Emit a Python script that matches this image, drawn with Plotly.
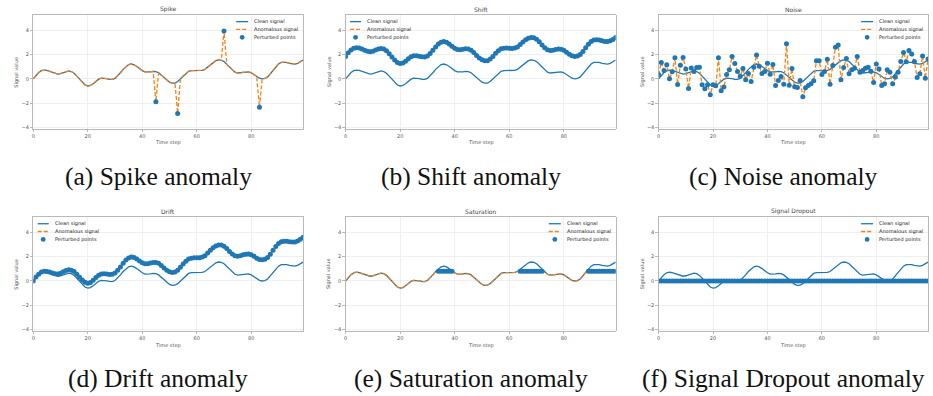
import plotly.graph_objects as go

# ---------------- data ----------------
time_steps = list(range(100))

clean_signal = [
    0.00, 0.30, 0.52, 0.67, 0.72, 0.69, 0.61, 0.51, 0.42, 0.39,
    0.43, 0.52, 0.61, 0.65, 0.60, 0.46, 0.22, -0.05, -0.30, -0.50,
    -0.59, -0.55, -0.40, -0.20, -0.03, 0.05, 0.05, 0.01, -0.04, -0.05,
    0.04, 0.24, 0.50, 0.78, 1.02, 1.17, 1.22, 1.16, 1.02, 0.84,
    0.68, 0.57, 0.55, 0.58, 0.62, 0.60, 0.50, 0.31, 0.08, -0.13,
    -0.28, -0.36, -0.35, -0.22, 0.00, 0.25, 0.47, 0.62, 0.68, 0.69,
    0.67, 0.66, 0.70, 0.78, 0.98, 1.18, 1.37, 1.50, 1.56, 1.53,
    1.42, 1.20, 0.94, 0.72, 0.55, 0.48, 0.50, 0.56, 0.60, 0.58,
    0.50, 0.35, 0.18, 0.05, 0.00, 0.03, 0.16, 0.41, 0.72, 1.00,
    1.22, 1.35, 1.38, 1.35, 1.28, 1.23, 1.22, 1.28, 1.40, 1.55,
]

spike_signal = [
    0.00, 0.30, 0.52, 0.67, 0.72, 0.69, 0.61, 0.51, 0.42, 0.39,
    0.43, 0.52, 0.61, 0.65, 0.60, 0.46, 0.22, -0.05, -0.30, -0.50,
    -0.59, -0.55, -0.40, -0.20, -0.03, 0.05, 0.05, 0.01, -0.04, -0.05,
    0.04, 0.24, 0.50, 0.78, 1.02, 1.17, 1.22, 1.16, 1.02, 0.84,
    0.68, 0.57, 0.55, 0.58, 0.62, -1.90, 0.50, 0.31, 0.08, -0.13,
    -0.28, -0.36, -0.35, -2.85, 0.00, 0.25, 0.47, 0.62, 0.68, 0.69,
    0.67, 0.66, 0.70, 0.78, 0.98, 1.18, 1.37, 1.50, 1.56, 1.53,
    3.95, 1.20, 0.94, 0.72, 0.55, 0.48, 0.50, 0.56, 0.60, 0.58,
    0.50, 0.35, 0.18, -2.35, 0.00, 0.03, 0.16, 0.41, 0.72, 1.00,
    1.22, 1.35, 1.38, 1.35, 1.28, 1.23, 1.22, 1.28, 1.40, 1.55,
]
spike_steps = [45, 53, 70, 83]
spike_values = [-1.90, -2.85, 3.95, -2.35]

shift_signal = [
    1.85, 2.15, 2.37, 2.52, 2.57, 2.54, 2.46, 2.36, 2.27, 2.24,
    2.28, 2.37, 2.46, 2.50, 2.45, 2.31, 2.07, 1.80, 1.55, 1.35,
    1.26, 1.30, 1.45, 1.65, 1.82, 1.90, 1.90, 1.86, 1.81, 1.80,
    1.89, 2.09, 2.35, 2.63, 2.87, 3.02, 3.07, 3.01, 2.87, 2.69,
    2.53, 2.42, 2.40, 2.43, 2.47, 2.45, 2.35, 2.16, 1.93, 1.72,
    1.57, 1.49, 1.50, 1.63, 1.85, 2.10, 2.32, 2.47, 2.53, 2.54,
    2.52, 2.51, 2.55, 2.63, 2.83, 3.03, 3.22, 3.35, 3.41, 3.38,
    3.27, 3.05, 2.79, 2.57, 2.40, 2.33, 2.35, 2.41, 2.45, 2.43,
    2.35, 2.20, 2.03, 1.90, 1.85, 1.88, 2.01, 2.26, 2.57, 2.85,
    3.07, 3.20, 3.23, 3.20, 3.13, 3.08, 3.07, 3.13, 3.25, 3.40,
]

noise_signal = [
    0.35, 1.34, 0.68, 1.15, 0.00, 0.58, 1.73, -0.47, 1.12, 1.75,
    0.82, -0.79, 0.90, 0.60, 0.93, 0.96, -0.49, -0.82, -0.49, -1.31,
    -0.49, -0.57, 1.73, -0.99, -0.68, 0.36, 0.74, 1.84, 1.26, 0.60,
    0.22, 0.85, -0.08, 0.44, -0.22, 0.96, 1.97, 1.04, 0.44, 0.60,
    1.29, 0.38, 1.18, -0.55, -0.14, 0.19, -0.44, 2.90, -0.52, 0.85,
    -0.66, -0.71, -0.14, -1.48, -0.74, -0.55, -0.41, -0.16, 1.48, 1.48,
    0.36, 0.60, 1.62, -0.44, 1.10, 2.60, 2.79, -0.08, 0.93, 1.67,
    0.41, 0.74, 0.88, 1.84, 0.55, 0.68, 0.88, 0.96, 0.63, -0.30,
    1.23, 0.82, -0.55, -0.41, 0.74, 0.55, -0.41, 0.14, 0.55, 1.42,
    2.16, 1.40, 2.33, 2.05, 1.42, 0.11, 0.41, 1.89, 0.05, 1.64,
]

drift_signal = [
    0.00, 0.32, 0.56, 0.73, 0.80, 0.79, 0.73, 0.65, 0.59, 0.58,
    0.64, 0.75, 0.86, 0.92, 0.89, 0.77, 0.55, 0.30, 0.07, -0.11,
    -0.18, -0.12, 0.06, 0.28, 0.47, 0.57, 0.59, 0.57, 0.54, 0.55,
    0.66, 0.88, 1.16, 1.46, 1.72, 1.89, 1.97, 1.93, 1.81, 1.65,
    1.51, 1.42, 1.42, 1.47, 1.53, 1.53, 1.45, 1.28, 1.07, 0.88,
    0.76, 0.70, 0.73, 0.88, 1.12, 1.39, 1.63, 1.80, 1.88, 1.91,
    1.91, 1.92, 1.98, 2.08, 2.30, 2.53, 2.74, 2.89, 2.97, 2.96,
    2.87, 2.67, 2.43, 2.23, 2.08, 2.03, 2.07, 2.15, 2.21, 2.22,
    2.16, 2.03, 1.88, 1.77, 1.74, 1.79, 1.94, 2.21, 2.54, 2.84,
    3.08, 3.23, 3.28, 3.28, 3.23, 3.20, 3.21, 3.29, 3.43, 3.60,
]

saturation_signal = [
    0.00, 0.30, 0.52, 0.67, 0.72, 0.69, 0.61, 0.51, 0.42, 0.39,
    0.43, 0.52, 0.61, 0.65, 0.60, 0.46, 0.22, -0.05, -0.30, -0.50,
    -0.59, -0.55, -0.40, -0.20, -0.03, 0.05, 0.05, 0.01, -0.04, -0.05,
    0.04, 0.24, 0.50, 0.78, 0.80, 0.80, 0.80, 0.80, 0.80, 0.80,
    0.68, 0.57, 0.55, 0.58, 0.62, 0.60, 0.50, 0.31, 0.08, -0.13,
    -0.28, -0.36, -0.35, -0.22, 0.00, 0.25, 0.47, 0.62, 0.68, 0.69,
    0.67, 0.66, 0.70, 0.78, 0.80, 0.80, 0.80, 0.80, 0.80, 0.80,
    0.80, 0.80, 0.80, 0.72, 0.55, 0.48, 0.50, 0.56, 0.60, 0.58,
    0.50, 0.35, 0.18, 0.05, 0.00, 0.03, 0.16, 0.41, 0.72, 0.80,
    0.80, 0.80, 0.80, 0.80, 0.80, 0.80, 0.80, 0.80, 0.80, 0.80,
]
saturation_steps = [34, 35, 36, 37, 38, 39,
                    64, 65, 66, 67, 68, 69, 70, 71, 72,
                    89, 90, 91, 92, 93, 94, 95, 96, 97, 98, 99]
saturation_values = [0.80] * len(saturation_steps)

dropout_signal = [0.00] * 100

x_ticks = [0, 20, 40, 60, 80]
y_ticks = [-4, -2, 0, 2, 4]
y_tick_labels = ["\u22124", "\u22122", "0", "2", "4"]

titles = ["Spike", "Shift", "Noise", "Drift", "Saturation", "Signal Dropout"]
captions = ["(a) Spike anomaly", "(b) Shift anomaly", "(c) Noise anomaly",
            "(d) Drift anomaly", "(e) Saturation anomaly", "(f) Signal Dropout anomaly"]
legend_labels = ["Clean signal", "Anomalous signal", "Perturbed points"]

anomalous = [spike_signal, shift_signal, noise_signal,
             drift_signal, saturation_signal, dropout_signal]
perturbed_x = [spike_steps, time_steps, time_steps,
               time_steps, saturation_steps, time_steps]
perturbed_y = [spike_values, shift_signal, noise_signal,
               drift_signal, saturation_values, dropout_signal]
legend_side = ["right", "left", "right", "left", "right", "right"]

# ---------------- layout geometry (pixels) ----------------
W, H = 933, 396
col_px = [(31.3, 301.7), (344.3, 615.0), (658.0, 928.0)]
row_px = [(14.7, 129.0), (217.3, 331.7)]
BLUE = "#1f77b4"
ORANGE = "#ff7f0e"
SMALL = "DejaVu Sans"


def px(x):
    return x / W


def py(y):
    return 1 - y / H


fig = go.Figure()
annotations = []
shapes = []
layout_axes = {}

for i in range(6):
    r, c = divmod(i, 3)
    x0, x1 = col_px[c]
    y0, y1 = row_px[r]
    n = i + 1
    xa = "x" if n == 1 else f"x{n}"
    ya = "y" if n == 1 else f"y{n}"
    xkey = "xaxis" if n == 1 else f"xaxis{n}"
    ykey = "yaxis" if n == 1 else f"yaxis{n}"

    axis_common = dict(
        showline=True, linecolor="#a8a8a8", linewidth=0.8, mirror=True,
        showgrid=True, gridcolor="#ebebeb", gridwidth=0.8, zeroline=False,
        ticks="outside", ticklen=2.5, tickwidth=0.8, tickcolor="#a8a8a8",
        tickfont=dict(family=SMALL, size=5, color="#555555"),
    )
    layout_axes[xkey] = dict(axis_common, domain=[px(x0), px(x1)], anchor=ya,
                             range=[0, 99], tickvals=x_ticks)
    layout_axes[ykey] = dict(axis_common, domain=[py(y1), py(y0)], anchor=xa,
                             range=[-4.11, 5.29], tickvals=y_ticks,
                             ticktext=y_tick_labels)

    fig.add_trace(go.Scatter(x=time_steps, y=clean_signal, mode="lines",
                             line=dict(color=BLUE, width=1.3),
                             name=legend_labels[0], showlegend=False,
                             xaxis=xa, yaxis=ya))
    fig.add_trace(go.Scatter(x=time_steps, y=anomalous[i], mode="lines",
                             line=dict(color=ORANGE, width=1.3, dash="4px,2px"),
                             name=legend_labels[1], showlegend=False,
                             xaxis=xa, yaxis=ya))
    fig.add_trace(go.Scatter(x=perturbed_x[i], y=perturbed_y[i], mode="markers",
                             marker=dict(color=BLUE, size=5, line=dict(width=0)),
                             name=legend_labels[2], showlegend=False,
                             xaxis=xa, yaxis=ya))

    cx = (x0 + x1) / 2
    # subplot title
    annotations.append(dict(text=titles[i], x=px(cx), y=py(y0 - 5.3),
                            xref="paper", yref="paper", showarrow=False,
                            xanchor="center", yanchor="middle",
                            font=dict(family=SMALL, size=6, color="#444444")))
    # axis titles
    annotations.append(dict(text="Time step", x=px(cx), y=py(y1 + 14.3),
                            xref="paper", yref="paper", showarrow=False,
                            xanchor="center", yanchor="middle",
                            font=dict(family=SMALL, size=5, color="#555555")))
    annotations.append(dict(text="Signal value", x=px(x0 - 16.3), y=py((y0 + y1) / 2),
                            xref="paper", yref="paper", showarrow=False, textangle=-90,
                            xanchor="center", yanchor="middle",
                            font=dict(family=SMALL, size=5, color="#555555")))
    # caption
    annotations.append(dict(text=captions[i], x=px(cx - 10), y=py(y1 + 48),
                            xref="paper", yref="paper", showarrow=False,
                            xanchor="center", yanchor="middle",
                            font=dict(family="Liberation Serif", size=25.5, color="#111111")))

    # legend (drawn in figure space)
    if legend_side[i] == "right":
        lx0, lx1, tx = x1 - 67, x1 - 55, x1 - 51
    else:
        lx0, lx1, tx = x0 + 4.5, x0 + 15.5, x0 + 19.5
    rows_y = [y0 + 7.0, y0 + 14.8, y0 + 22.7]
    shapes.append(dict(type="line", xref="paper", yref="paper",
                       x0=px(lx0), x1=px(lx1), y0=py(rows_y[0]), y1=py(rows_y[0]),
                       line=dict(color=BLUE, width=1.3)))
    shapes.append(dict(type="line", xref="paper", yref="paper",
                       x0=px(lx0), x1=px(lx1), y0=py(rows_y[1]), y1=py(rows_y[1]),
                       line=dict(color=ORANGE, width=1.3, dash="4px,2px")))
    mx = (lx0 + lx1) / 2
    shapes.append(dict(type="circle", xref="paper", yref="paper",
                       x0=px(mx - 2.4), x1=px(mx + 2.4),
                       y0=py(rows_y[2] + 2.4), y1=py(rows_y[2] - 2.4),
                       fillcolor=BLUE, line=dict(width=0)))
    for k, lab in enumerate(legend_labels):
        annotations.append(dict(text=lab, x=px(tx), y=py(rows_y[k]),
                                xref="paper", yref="paper", showarrow=False,
                                xanchor="left", yanchor="middle",
                                font=dict(family=SMALL, size=5, color="#222222")))

fig.update_layout(
    width=W, height=H,
    margin=dict(l=0, r=0, t=0, b=0),
    paper_bgcolor="white", plot_bgcolor="white",
    showlegend=False, hovermode=False,
    annotations=annotations, shapes=shapes,
    **layout_axes,
)

fig.write_html("out.html",
               config={"displayModeBar": False, "staticPlot": True},
               post_script="document.body.style.margin='0';document.body.style.padding='0';")
